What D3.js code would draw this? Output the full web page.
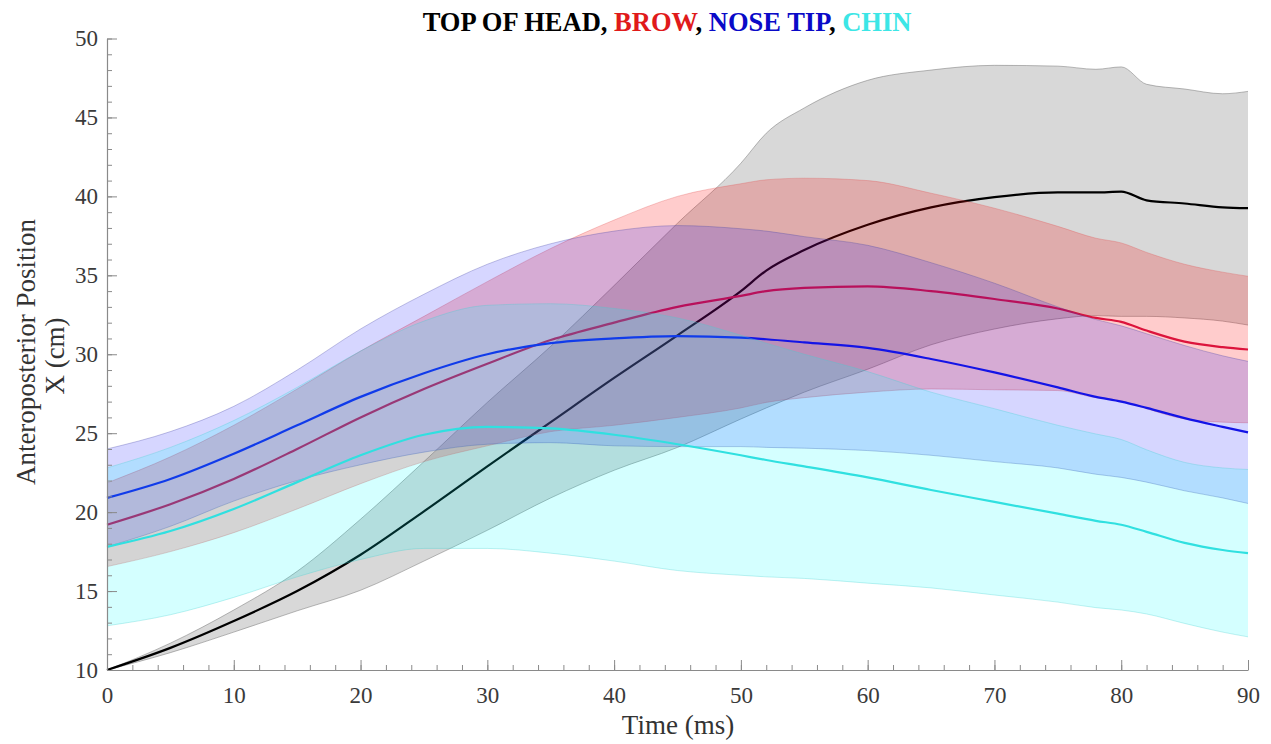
<!DOCTYPE html>
<html>
<head>
<meta charset="utf-8">
<script src="https://cdn.jsdelivr.net/npm/d3@7"></script>
<style>
  html, body { margin: 0; padding: 0; background: #ffffff; }
  svg { display: block; }
  text { font-family: "Liberation Serif", "Times New Roman", serif; }
</style>
</head>
<body>
<svg id="chart" width="1271" height="744"></svg>
<script>
// ---- data ----
const time = [0, 5, 10, 15, 20, 25, 30, 35, 40, 45, 50, 52, 55, 60, 65, 70, 75, 78, 80, 82, 85, 88, 90];

const headMean = [10, 11.4, 13.1, 15.0, 17.3, 20.05, 22.9, 25.7, 28.5, 31.2, 34.0, 35.3, 36.6, 38.2, 39.3, 39.95, 40.25, 40.25, 40.3, 39.75, 39.55, 39.3, 39.25];
const headSD   = [0, 0.3, 0.7, 1.25, 2.25, 3.15, 4.05, 4.8, 5.85, 7.1, 8.1, 8.7, 9.0, 9.15, 8.7, 8.35, 8.0, 7.8, 7.9, 7.35, 7.25, 7.2, 7.4];

const browMean = [19.2, 20.5, 22.1, 24.0, 26.0, 27.8, 29.4, 30.9, 32.0, 33.0, 33.7, 34.0, 34.2, 34.3, 34.0, 33.5, 32.9, 32.3, 32.05, 31.5, 30.8, 30.45, 30.3];
const browSD   = [2.65, 3.0, 3.4, 3.8, 4.2, 4.6, 5.2, 5.8, 6.5, 7.0, 7.1, 7.05, 6.95, 6.7, 6.2, 5.75, 5.2, 5.05, 5.0, 4.95, 4.9, 4.75, 4.64];

const noseMean = [20.9, 22.1, 23.7, 25.5, 27.3, 28.8, 30.0, 30.7, 31.0, 31.15, 31.05, 30.95, 30.75, 30.4, 29.7, 28.85, 27.9, 27.3, 27.0, 26.6, 25.95, 25.4, 25.05];
const noseSD   = [3.1, 3.0, 3.0, 3.5, 4.3, 5.0, 5.7, 6.3, 6.8, 7.0, 6.9, 6.85, 6.7, 6.5, 6.1, 5.65, 5.1, 4.9, 4.8, 4.7, 4.6, 4.5, 4.5];

const chinMean = [17.8, 18.8, 20.2, 21.9, 23.6, 24.9, 25.4, 25.3, 24.9, 24.3, 23.6, 23.3, 22.9, 22.2, 21.4, 20.65, 19.9, 19.45, 19.2, 18.75, 18.05, 17.6, 17.4];
const chinSD   = [5.0, 5.3, 5.6, 6.0, 6.6, 7.2, 7.7, 7.9, 8.0, 8.0, 7.6, 7.4, 7.1, 6.7, 6.2, 5.9, 5.6, 5.5, 5.4, 5.2, 5.1, 5.2, 5.3];

const seriesNames = ["TOP OF HEAD", "BROW", "NOSE TIP", "CHIN"];
const xTicks = [0, 10, 20, 30, 40, 50, 60, 70, 80, 90];
const yTicks = [10, 15, 20, 25, 30, 35, 40, 45, 50];

// ---- styling ----
const styles = [
  { mean: headMean, sd: headSD, fill: "#808080", fillOp: 0.31, edge: "#707070", edgeOp: 0.55, line: "#000000", title: "#000000" },
  { mean: browMean, sd: browSD, fill: "#ff0000", fillOp: 0.20, edge: "#e05050", edgeOp: 0.35, line: "#dc143c", title: "#e01a1a" },
  { mean: noseMean, sd: noseSD, fill: "#0000ff", fillOp: 0.16, edge: "#4040a0", edgeOp: 0.35, line: "#1414e6", title: "#0a0ac8" },
  { mean: chinMean, sd: chinSD, fill: "#00ffff", fillOp: 0.17, edge: "#40d0d0", edgeOp: 0.35, line: "#30e0e0", title: "#3ce6e6" }
];

const svg = d3.select("#chart");
const x = d3.scaleLinear().domain([0, 90]).range([107, 1248]);
const y = d3.scaleLinear().domain([10, 50]).range([670, 38.5]);

const curve = d3.curveMonotoneX;

styles.forEach((s, si) => {
  const pts = time.map((t, i) => ({ t, m: s.mean[i], lo: s.mean[i] - s.sd[i], hi: s.mean[i] + s.sd[i] }));
  const area = d3.area().curve(curve).x(d => x(d.t)).y0(d => y(d.lo)).y1(d => y(d.hi));
  svg.append("path").datum(pts).attr("d", area)
    .attr("fill", s.fill).attr("fill-opacity", s.fillOp).attr("stroke", "none");
  const edgeHi = d3.line().curve(curve).x(d => x(d.t)).y(d => y(d.hi));
  const edgeLo = d3.line().curve(curve).x(d => x(d.t)).y(d => y(d.lo));
  [edgeHi, edgeLo].forEach(g => {
    svg.append("path").datum(pts).attr("d", g)
      .attr("fill", "none").attr("stroke", s.edge).attr("stroke-opacity", s.edgeOp).attr("stroke-width", 0.9);
  });
  const meanLine = d3.line().curve(curve).x(d => x(d.t)).y(d => y(d.m));
  svg.append("path").datum(pts).attr("d", meanLine)
    .attr("fill", "none").attr("stroke", s.line).attr("stroke-width", 2.2);
});

// ---- axes ----
const axisColor = "#8a8a8a";
const tickText = "#3a3a3a";

// minor ticks
svg.append("g").attr("transform", "translate(107,0)")
  .call(d3.axisLeft(y).tickValues(d3.range(10, 51, 1)).tickSize(-5).tickFormat(""))
  .call(g => g.select(".domain").remove())
  .call(g => g.selectAll("line").attr("stroke", axisColor));
svg.append("g").attr("transform", "translate(0,670)")
  .call(d3.axisBottom(x).tickValues(d3.range(0, 91, 2)).tickSize(-5).tickFormat(""))
  .call(g => g.select(".domain").remove())
  .call(g => g.selectAll("line").attr("stroke", axisColor));

// major
const yAxis = svg.append("g").attr("transform", "translate(107,0)")
  .call(d3.axisLeft(y).tickValues(yTicks).tickSizeInner(-10).tickSizeOuter(0).tickPadding(9));
const xAxis = svg.append("g").attr("transform", "translate(0,670)")
  .call(d3.axisBottom(x).tickValues(xTicks).tickSizeInner(-10).tickSizeOuter(0).tickPadding(17));
[yAxis, xAxis].forEach(g => {
  g.select(".domain").attr("stroke", axisColor).attr("stroke-width", 1.2);
  g.selectAll(".tick line").attr("stroke", axisColor);
  g.selectAll(".tick text").attr("fill", tickText)
    .style("font-family", '"Liberation Serif", "Times New Roman", serif').style("font-size", "23px");
});

// axis labels
svg.append("text").attr("x", 678).attr("y", 734).attr("text-anchor", "middle")
  .attr("fill", "#333").style("font-size", "27px").text("Time (ms)");
svg.append("text").attr("transform", "translate(35,352) rotate(-90)").attr("text-anchor", "middle")
  .attr("fill", "#333").style("font-size", "27px").text("Anteroposterior Position");
svg.append("text").attr("transform", "translate(64,356) rotate(-90)").attr("text-anchor", "middle")
  .attr("fill", "#333").style("font-size", "27px").text("X (cm)");

// title
const title = svg.append("text").attr("x", 667).attr("y", 31).attr("text-anchor", "middle")
  .style("font-size", "26.5px").style("font-weight", "bold");
seriesNames.forEach((n, i) => {
  title.append("tspan").attr("fill", styles[i].title).text(n);
  if (i < seriesNames.length - 1) title.append("tspan").attr("fill", "#000").text(", ");
});
</script>
</body>
</html>
